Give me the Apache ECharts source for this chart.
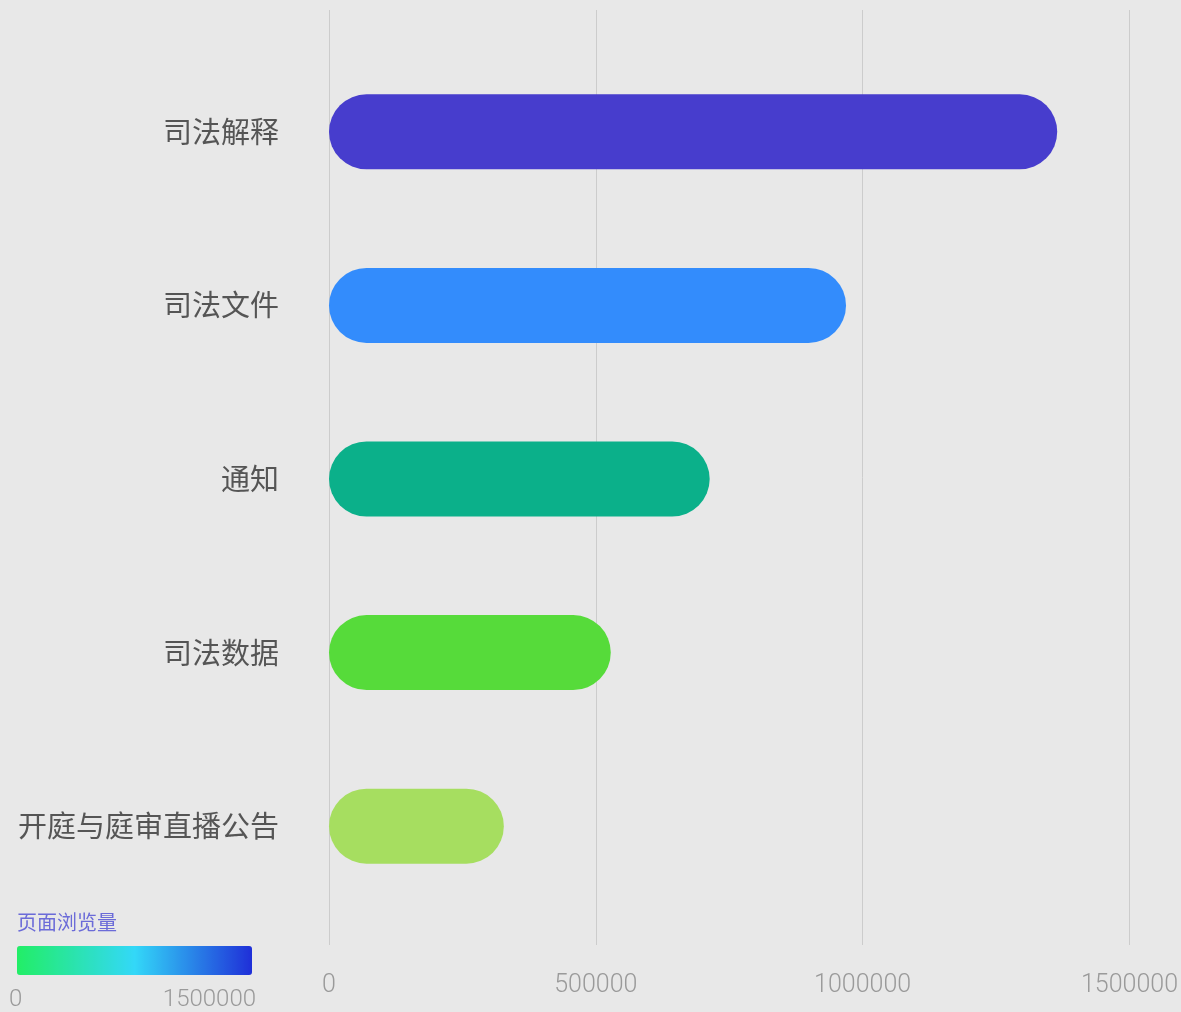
<!DOCTYPE html>
<html><head><meta charset="utf-8">
<script src="https://cdn.jsdelivr.net/npm/echarts@6/dist/echarts.min.js"></script>
<style>html,body{margin:0;padding:0;background:#e8e8e8;}#c{width:1181px;height:1012px;}</style>
</head><body><div id="c"></div>
<script>
const categories = ['司法解释','司法文件','通知','司法数据','开庭与庭审直播公告'];
const values = [1362000, 967000, 712000, 527000, 327000];
const barColors = ['#473dcd','#338cfc','#0bb08a','#56db3a','#a6de60'];
const xTicks = [0, 500000, 1000000, 1500000];
const legendName = '页面浏览量';
const legendRange = [0, 1500000];

const chart = echarts.init(document.getElementById('c'));
chart.setOption({
  backgroundColor: '#e8e8e8',
  grid: [
    {left: 329, right: 50, top: 10, height: 935},
    {left: 329, right: 50, top: 45, height: 868}
  ],
  xAxis: [
    {gridIndex: 0, type: 'value', min: xTicks[0], max: xTicks[xTicks.length-1], interval: 500000,
     axisLine: {show: false}, axisTick: {show: false},
     splitLine: {lineStyle: {color: '#cccccc', width: 1}},
     axisLabel: {color: '#9a9a9a', fontSize: 25, fontFamily: 'Roboto', fontWeight: 300, margin: 28,
                 formatter: v => String(v)}},
    {gridIndex: 1, type: 'value', min: xTicks[0], max: xTicks[xTicks.length-1], interval: 500000, show: false}
  ],
  yAxis: [
    {gridIndex: 0, type: 'category', data: categories, show: false, inverse: true},
    {gridIndex: 1, type: 'category', data: categories, inverse: true,
     axisLine: {show: false}, axisTick: {show: false}, splitLine: {show: false},
     axisLabel: {color: '#555555', fontSize: 29, fontFamily: 'Noto Sans CJK SC', margin: 50}}
  ],
  visualMap: {
    type: 'continuous', orient: 'horizontal', min: legendRange[0], max: legendRange[1],
    left: 17, top: 946, itemWidth: 29, itemHeight: 235, padding: 0,
    calculable: false, text: ['', ''], showLabel: false,
    seriesIndex: 1,
    inRange: {color: ['#22ee66', '#33d8f8', '#1f2fd8']}
  },
  graphic: [
    {type: 'text', left: 17, top: 912, style: {text: legendName, fill: '#6b6bd8', fontSize: 20, fontFamily: 'Noto Sans CJK SC'}},
    {type: 'text', left: 9, top: 988, style: {text: String(legendRange[0]), fill: '#9a9a9a', fontSize: 24, fontFamily: 'Roboto', fontWeight: 300}},
    {type: 'text', right: 1181-256, top: 988, style: {text: String(legendRange[1]), fill: '#9a9a9a', fontSize: 24, fontFamily: 'Roboto', fontWeight: 300}}
  ],
  series: [
    {type: 'bar', xAxisIndex: 1, yAxisIndex: 1, barWidth: 75,
     data: values.map((v, i) => ({value: v, itemStyle: {color: barColors[i], borderRadius: 37.5}})),
     silent: true},
    {type: 'scatter', xAxisIndex: 0, yAxisIndex: 0, data: []}
  ],
  animation: false
});
</script></body></html>
